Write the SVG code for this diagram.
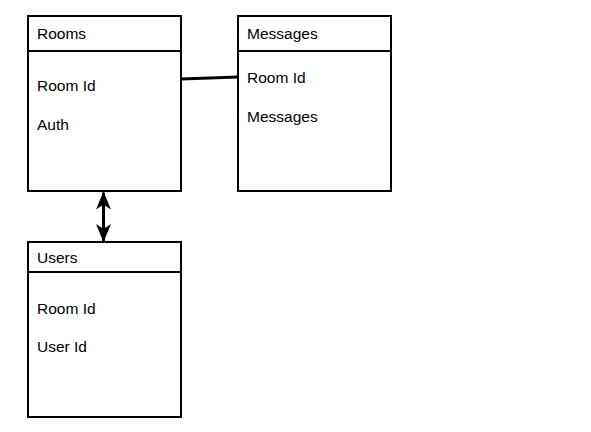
<svg xmlns="http://www.w3.org/2000/svg" width="591" height="432" viewBox="0 0 591 432">
<style>
.box{fill:#fff;stroke:#000;stroke-width:2}
.t{font-family:"Liberation Sans",Arial,sans-serif;font-size:15.5px;fill:#000}
.c{stroke:#000;stroke-width:3;fill:none}
</style>
<defs>
<marker id="ah" viewBox="0 0 18 15" refX="17" refY="7.5" markerWidth="18" markerHeight="15" markerUnits="userSpaceOnUse" orient="auto-start-reverse">
<path d="M0,0 L18,7.5 L0,15 L5,7.5 Z" fill="#000"/>
</marker>
</defs>
<rect width="591" height="432" fill="#fff"/>
<g id="rooms">
<rect class="box" x="28" y="16" width="153" height="175"/>
<line x1="28" y1="51" x2="181" y2="51" stroke="#000" stroke-width="2"/>
<text class="t" x="37" y="39">Rooms</text>
<text class="t" x="37" y="91">Room Id</text>
<text class="t" x="37" y="130">Auth</text>
</g>
<g id="messages">
<rect class="box" x="238" y="16" width="153" height="175"/>
<line x1="238" y1="51" x2="391" y2="51" stroke="#000" stroke-width="2"/>
<text class="t" x="247" y="39">Messages</text>
<text class="t" x="247" y="83">Room Id</text>
<text class="t" x="247" y="122">Messages</text>
</g>
<g id="users">
<rect class="box" x="28" y="242" width="153" height="175"/>
<line x1="28" y1="272" x2="181" y2="272" stroke="#000" stroke-width="2"/>
<text class="t" x="37" y="263">Users</text>
<text class="t" x="37" y="314">Room Id</text>
<text class="t" x="37" y="352">User Id</text>
</g>
<g id="connectors">
<line class="c" x1="181" y1="79" x2="238" y2="77"/>
<line class="c" x1="103.5" y1="192.5" x2="103.5" y2="241" marker-start="url(#ah)" marker-end="url(#ah)"/>
</g>
</svg>
